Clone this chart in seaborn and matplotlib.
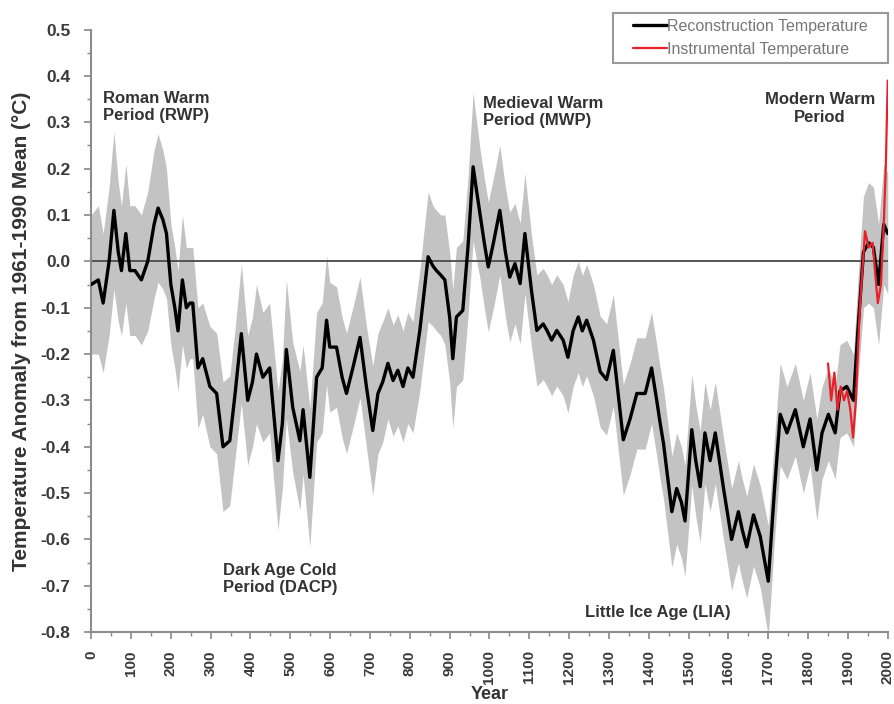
import numpy as np
import pandas as pd
import matplotlib
matplotlib.use("Agg")
import matplotlib.pyplot as plt
import seaborn as sns
from matplotlib.ticker import MultipleLocator
from matplotlib.patches import Rectangle

# reconstruction (year, anomaly, half width of grey band)
rec_years = [0, 18, 30, 45, 57, 68, 76, 87, 97, 110,
             126, 142, 158, 168, 180, 189, 200, 210, 218, 229,
             239, 248, 255, 268, 280, 298, 315, 331, 348, 362,
             377, 393, 405, 415, 431, 448, 469, 480, 490, 506,
             524, 532, 549, 566, 580, 591, 599, 616, 630, 641,
             657, 675, 691, 707, 720, 732, 745, 758, 770, 783,
             795, 808, 825, 846, 858, 867, 878, 888, 900, 908,
             917, 933, 946, 959, 968, 976, 987, 997, 1010, 1026,
             1040, 1051, 1064, 1077, 1089, 1105, 1119, 1135, 1145, 1156,
             1169, 1185, 1197, 1210, 1223, 1233, 1244, 1261, 1278, 1294,
             1311, 1325, 1336, 1353, 1370, 1391, 1407, 1420, 1428, 1437,
             1458, 1470, 1482, 1491, 1508, 1518, 1529, 1541, 1554, 1567,
             1587, 1608, 1625, 1635, 1646, 1663, 1680, 1700, 1715, 1730,
             1747, 1768, 1788, 1805, 1822, 1835, 1851, 1868, 1880, 1897,
             1914, 1925, 1939, 1952, 1964, 1977, 1990, 2000]
rec_temp = [-0.05, -0.04, -0.09, 0.00, 0.11, 0.02, -0.02, 0.06, -0.02, -0.02,
            -0.04, 0.00, 0.08, 0.115, 0.09, 0.06, -0.05, -0.10, -0.15, -0.04,
            -0.10, -0.09, -0.09, -0.23, -0.21, -0.27, -0.285, -0.40, -0.387, -0.28,
            -0.156, -0.30, -0.26, -0.20, -0.25, -0.23, -0.43, -0.35, -0.19, -0.315,
            -0.387, -0.32, -0.466, -0.25, -0.23, -0.127, -0.185, -0.185, -0.25, -0.285,
            -0.23, -0.164, -0.27, -0.365, -0.285, -0.26, -0.22, -0.257, -0.235, -0.27,
            -0.23, -0.25, -0.15, 0.01, -0.01, -0.02, -0.03, -0.04, -0.12, -0.21,
            -0.12, -0.106, 0.03, 0.204, 0.15, 0.104, 0.04, -0.012, 0.04, 0.11,
            0.02, -0.034, -0.005, -0.048, 0.06, -0.06, -0.149, -0.135, -0.15, -0.17,
            -0.149, -0.17, -0.207, -0.15, -0.12, -0.15, -0.127, -0.17, -0.238, -0.255,
            -0.192, -0.30, -0.385, -0.34, -0.285, -0.285, -0.23, -0.30, -0.346, -0.393,
            -0.54, -0.49, -0.52, -0.56, -0.363, -0.43, -0.486, -0.37, -0.43, -0.37,
            -0.486, -0.60, -0.54, -0.58, -0.616, -0.547, -0.594, -0.69, -0.50, -0.33,
            -0.37, -0.32, -0.40, -0.34, -0.45, -0.37, -0.33, -0.37, -0.28, -0.27,
            -0.30, -0.15, 0.02, 0.04, 0.03, -0.05, 0.08, 0.06]
rec_err = [0.15, 0.16, 0.15, 0.16, 0.17, 0.15, 0.14, 0.15, 0.14, 0.14,
           0.14, 0.15, 0.16, 0.16, 0.15, 0.14, 0.13, 0.13, 0.13, 0.14,
           0.13, 0.12, 0.12, 0.13, 0.12, 0.13, 0.13, 0.14, 0.14, 0.14,
           0.15, 0.14, 0.14, 0.15, 0.14, 0.14, 0.15, 0.14, 0.15, 0.14,
           0.15, 0.14, 0.15, 0.14, 0.14, 0.14, 0.14, 0.13, 0.13, 0.13,
           0.13, 0.13, 0.13, 0.14, 0.13, 0.13, 0.12, 0.12, 0.12, 0.12,
           0.12, 0.12, 0.13, 0.14, 0.13, 0.13, 0.13, 0.14, 0.14, 0.15,
           0.15, 0.15, 0.15, 0.16, 0.15, 0.14, 0.14, 0.14, 0.14, 0.14,
           0.14, 0.14, 0.13, 0.13, 0.13, 0.12, 0.12, 0.12, 0.12, 0.12,
           0.12, 0.12, 0.12, 0.12, 0.12, 0.12, 0.12, 0.12, 0.12, 0.12,
           0.12, 0.12, 0.12, 0.12, 0.12, 0.12, 0.12, 0.12, 0.12, 0.12,
           0.12, 0.12, 0.12, 0.12, 0.12, 0.12, 0.12, 0.11, 0.11, 0.11,
           0.11, 0.11, 0.11, 0.11, 0.11, 0.11, 0.11, 0.12, 0.11, 0.11,
           0.10, 0.10, 0.10, 0.10, 0.11, 0.10, 0.10, 0.10, 0.10, 0.10,
           0.10, 0.11, 0.12, 0.13, 0.13, 0.13, 0.13, 0.13]

# instrumental record
inst_years = [1850, 1858, 1866, 1874, 1882, 1890, 1898, 1906, 1913, 1920,
              1930, 1943, 1952, 1962, 1975, 1983, 1990, 1995, 2000]
inst_temp = [-0.22, -0.30, -0.24, -0.32, -0.27, -0.30, -0.28, -0.32, -0.38, -0.30,
             -0.10, 0.065, 0.03, 0.04, -0.09, -0.05, 0.08, 0.20, 0.39]

df_rec = pd.DataFrame({"Year": rec_years, "Temp": rec_temp, "Err": rec_err})
df_inst = pd.DataFrame({"Year": inst_years, "Temp": inst_temp})

sns.set_style("ticks")
plt.rcParams["font.family"] = ["Liberation Sans", "DejaVu Sans"]
plt.rcParams["font.weight"] = "bold"

txt = "#333333"
fig = plt.figure(figsize=(8.94, 7.04), dpi=100)
ax = fig.add_axes([0.102, 0.102, 0.891, 0.856])

# grey uncertainty band
ax.fill_between(df_rec["Year"], df_rec["Temp"] - df_rec["Err"], df_rec["Temp"] + df_rec["Err"],
                color="#c3c3c3", linewidth=0, zorder=1)
ax.axhline(0, color="#555555", lw=1.4, zorder=2)

sns.lineplot(data=df_rec, x="Year", y="Temp", color="black", lw=2.4, ax=ax, zorder=3,
             label="Reconstruction Temperature")
sns.lineplot(data=df_inst, x="Year", y="Temp", color="#e8202a", lw=1.6, ax=ax, zorder=4,
             label="Instrumental Temperature")

ax.set_xlim(0, 2000)
ax.set_ylim(-0.8, 0.5)
ax.xaxis.set_major_locator(MultipleLocator(100))
ax.xaxis.set_minor_locator(MultipleLocator(50))
ax.yaxis.set_major_locator(MultipleLocator(0.1))
ax.yaxis.set_minor_locator(MultipleLocator(0.05))
ax.yaxis.set_major_formatter(matplotlib.ticker.FormatStrFormatter("%.1f"))
ax.tick_params(axis="both", which="major", colors="#888888", labelcolor="#3a3a3a",
               length=5, width=1.2)
ax.tick_params(axis="y", which="major", labelsize=12.5, pad=10)
ax.tick_params(axis="x", which="major", labelsize=11, pad=8, labelrotation=90)
ax.tick_params(axis="both", which="minor", colors="#888888", length=3, width=1)

sns.despine(ax=ax)
for s in ["left", "bottom"]:
    ax.spines[s].set_color("#8c8c8c")
    ax.spines[s].set_linewidth(1.5)

ax.set_xlabel("Year", fontsize=13, fontweight="bold", color=txt)
ax.xaxis.set_label_coords(0.5, -0.0896)
ax.xaxis.label.set_va("top")
ax.set_ylabel("Temperature Anomaly from 1961-1990 Mean (°C)", fontsize=15,
              fontweight="bold", color=txt)
ax.yaxis.set_label_coords(-0.087, 0.5)
ax.yaxis.label.set_va("center")

fs = 12
ax.text(30, 0.333, "Roman Warm\nPeriod (RWP)", fontsize=fs, fontweight="bold", color=txt,
        va="center", ha="left", linespacing=1.2)
ax.text(983, 0.322, "Medieval Warm\nPeriod (MWP)", fontsize=fs, fontweight="bold", color=txt,
        va="center", ha="left", linespacing=1.2)
ax.text(1830, 0.33, "Modern Warm\nPeriod", fontsize=fs, fontweight="bold", color=txt,
        va="center", ha="center", linespacing=1.2)
ax.text(332, -0.685, "Dark Age Cold\nPeriod (DACP)", fontsize=fs, fontweight="bold", color=txt,
        va="center", ha="left", linespacing=1.2)
ax.text(1240, -0.758, "Little Ice Age (LIA)", fontsize=fs, fontweight="bold", color=txt,
        va="center", ha="left")

# legend entries without frame, box drawn separately (wider side padding)
leg = ax.legend(loc="upper left", bbox_to_anchor=(633 / 894, 1 - 19 / 704),
                bbox_transform=fig.transFigure, frameon=False, handlelength=2.1,
                borderpad=0, labelspacing=0.5, handletextpad=0.0, borderaxespad=0,
                prop={"weight": "normal", "size": 11.5})
for t in leg.get_texts():
    t.set_color("#777777")
fig.patches.append(Rectangle((613 / 894, 1 - 63 / 704), 275 / 894, 50 / 704,
                             transform=fig.transFigure, fill=False,
                             edgecolor="#999999", linewidth=1.5))

fig.savefig("out.png", dpi=100)
